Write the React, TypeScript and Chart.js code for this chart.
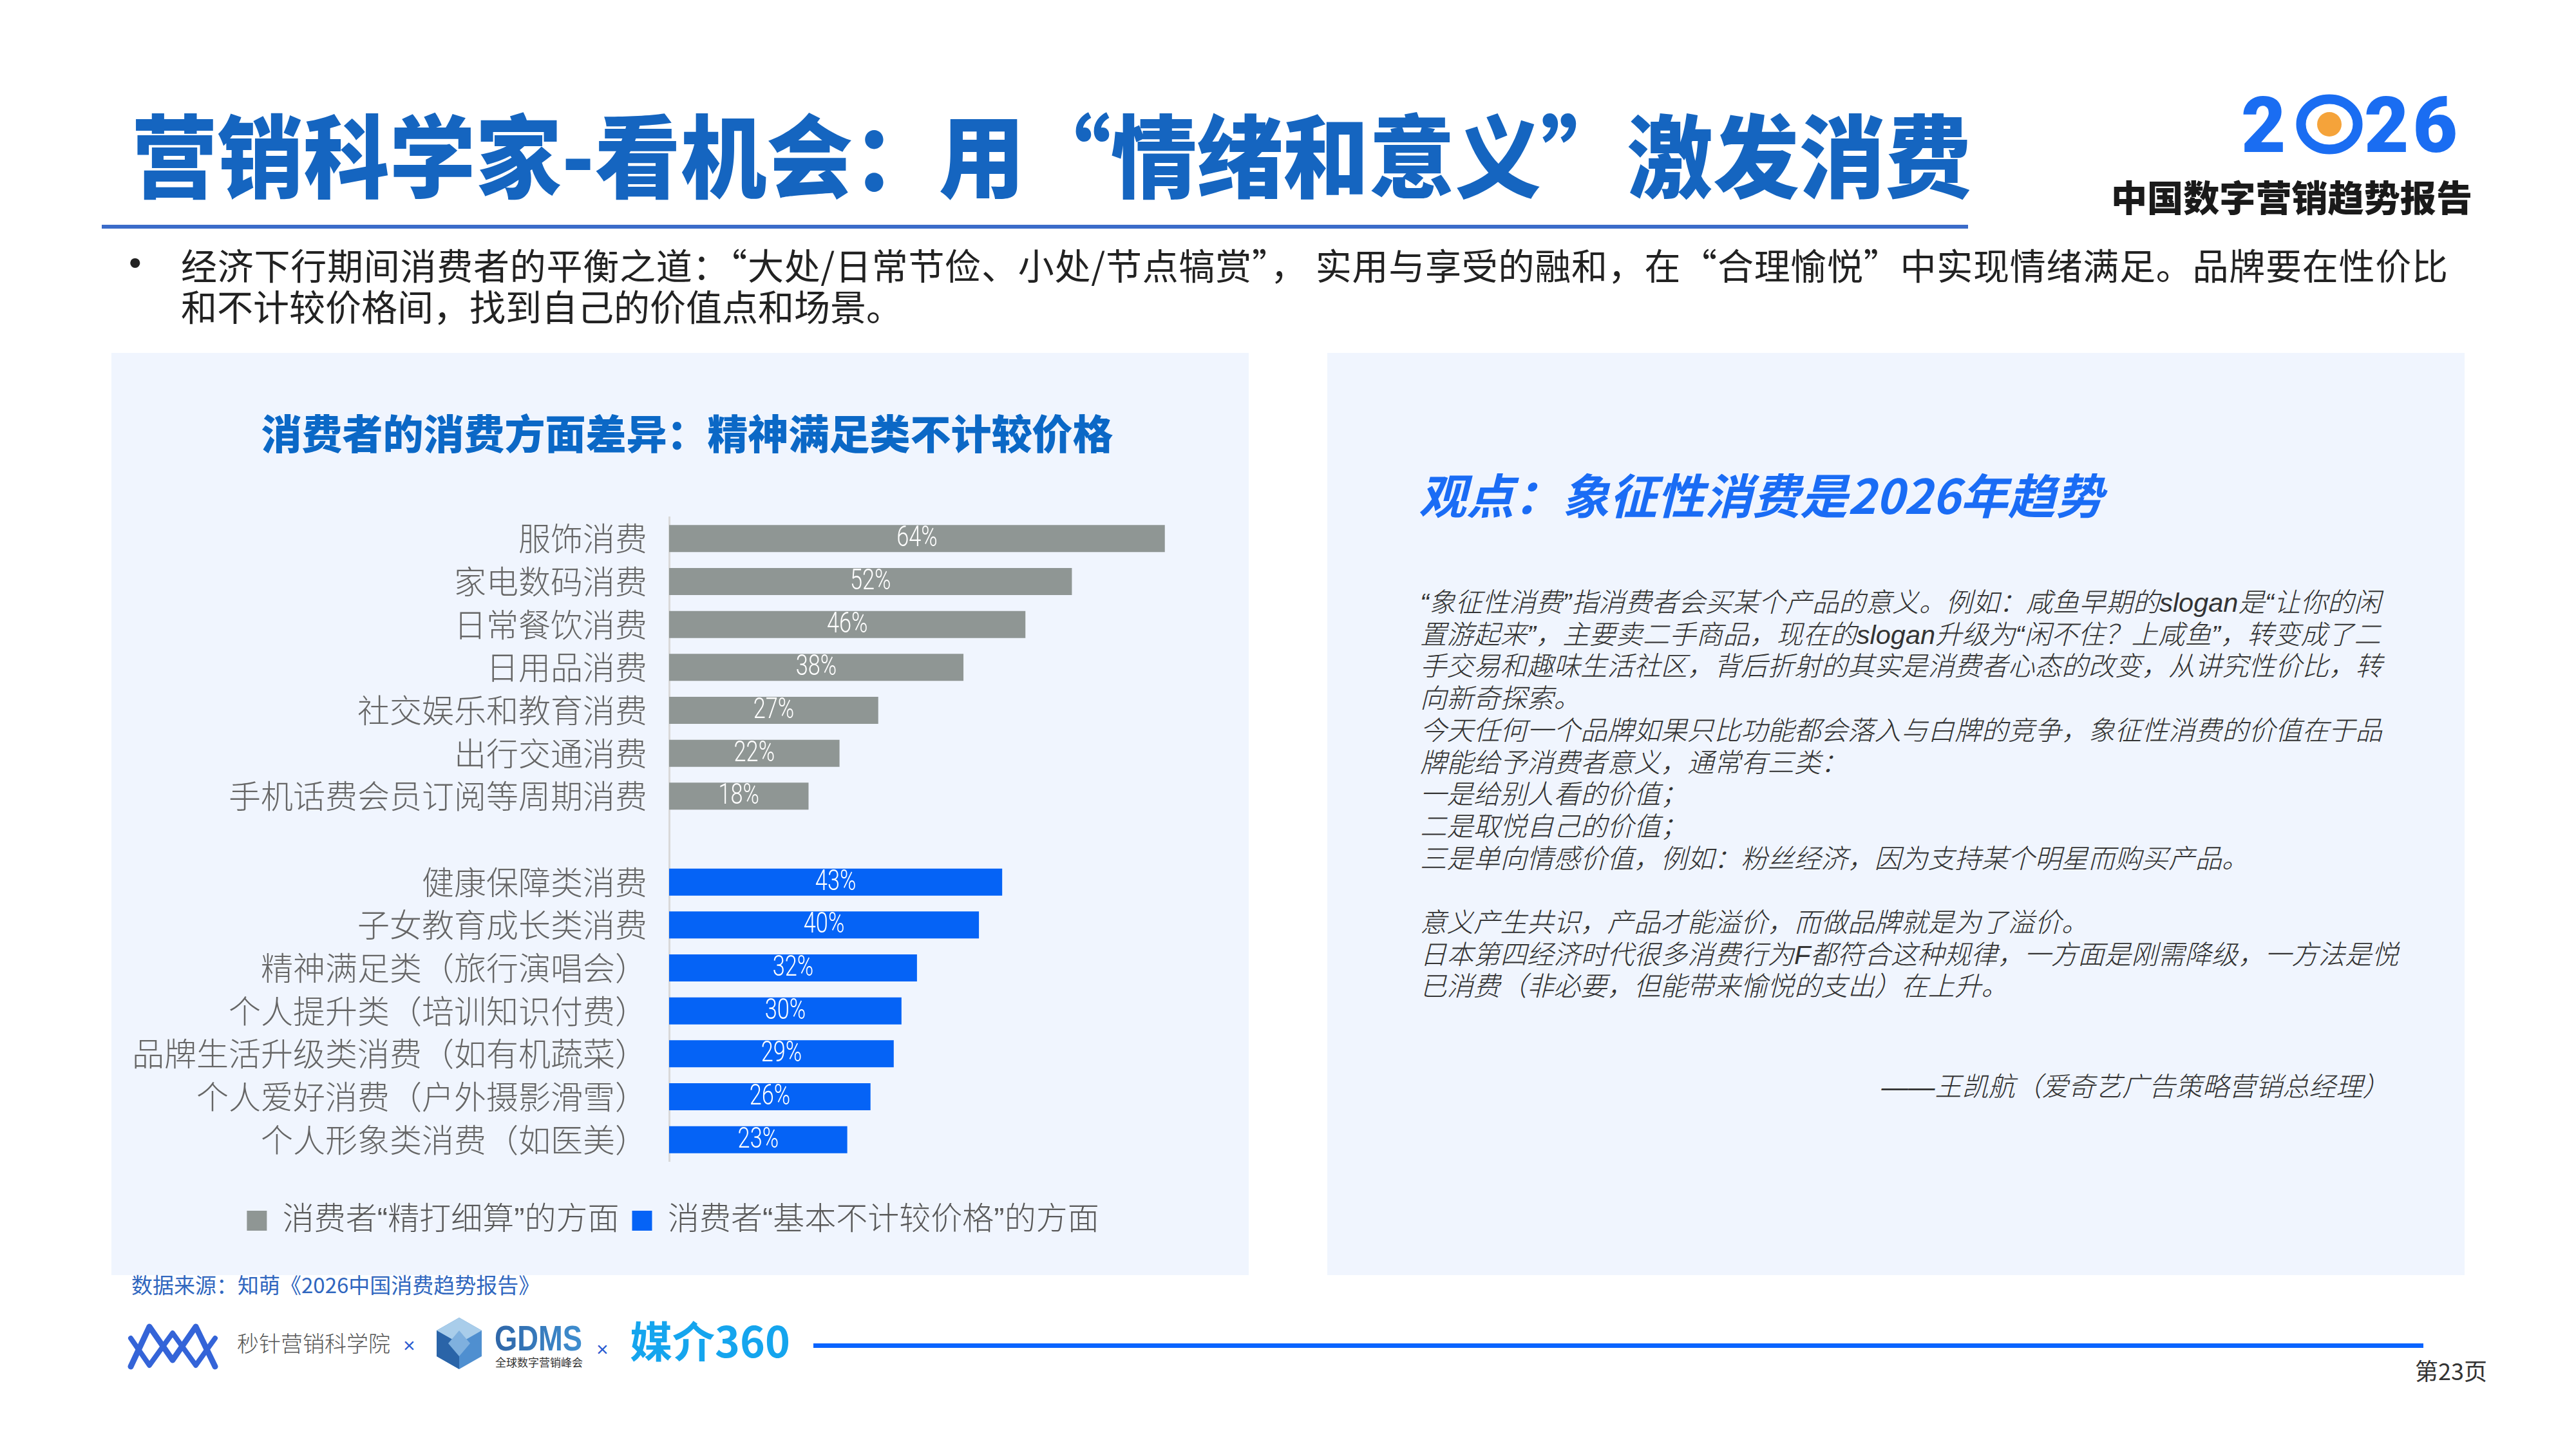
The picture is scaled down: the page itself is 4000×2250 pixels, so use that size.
import React, { useEffect, useRef } from "react";
import { Chart, registerables } from "chart.js";

Chart.register(...registerables);

// ---------------- data ----------------
const categories: string[] = [
  "服饰消费",
  "家电数码消费",
  "日常餐饮消费",
  "日用品消费",
  "社交娱乐和教育消费",
  "出行交通消费",
  "手机话费会员订阅等周期消费",
  "",
  "健康保障类消费",
  "子女教育成长类消费",
  "精神满足类（旅行演唱会）",
  "个人提升类（培训知识付费）",
  "品牌生活升级类消费（如有机蔬菜）",
  "个人爱好消费（户外摄影滑雪）",
  "个人形象类消费（如医美）",
];
const frugalValues: (number | null)[] = [64, 52, 46, 38, 27, 22, 18, null, null, null, null, null, null, null, null];
const splurgeValues: (number | null)[] = [null, null, null, null, null, null, null, null, 43, 40, 32, 30, 29, 26, 23];
const seriesLabels: string[] = ["消费者“精打细算”的方面", "消费者“基本不计较价格”的方面"];
const xMax = 73;

const bodyLines: string[] = [
  "“象征性消费”指消费者会买某个产品的意义。例如：咸鱼早期的slogan是“让你的闲",
  "置游起来”，主要卖二手商品，现在的slogan升级为“闲不住？上咸鱼”，转变成了二",
  "手交易和趣味生活社区，背后折射的其实是消费者心态的改变，从讲究性价比，转",
  "向新奇探索。",
  "今天任何一个品牌如果只比功能都会落入与白牌的竞争，象征性消费的价值在于品",
  "牌能给予消费者意义，通常有三类：",
  "一是给别人看的价值；",
  "二是取悦自己的价值；",
  "三是单向情感价值，例如：粉丝经济，因为支持某个明星而购买产品。",
  "",
  "意义产生共识，产品才能溢价，而做品牌就是为了溢价。",
  "日本第四经济时代很多消费行为F都符合这种规律，一方面是刚需降级，一方法是悦",
  "已消费（非必要，但能带来愉悦的支出）在上升。",
];

// ---------------- styles ----------------
const CJK = '"Noto Sans CJK SC", "Noto Sans", sans-serif';
const MIX = '"Liberation Sans", "Noto Sans CJK SC", sans-serif';
const GRAY = "#8f9694";
const BLUE = "#0563f6";

const barValueLabels = {
  id: "barValueLabels",
  afterDatasetsDraw(chart: any) {
    const ctx = chart.ctx;
    chart.data.datasets.forEach((ds: any, i: number) => {
      const meta = chart.getDatasetMeta(i);
      meta.data.forEach((bar: any, j: number) => {
        const v = ds.data[j];
        if (v == null) return;
        const p = bar.getProps(["x", "y", "base"], true);
        ctx.save();
        ctx.translate((p.x + p.base) / 2, p.y + 1);
        ctx.scale(0.78, 1);
        ctx.fillStyle = "#ffffff";
        ctx.font = '300 44px Roboto, "Liberation Sans", sans-serif';
        ctx.textAlign = "center";
        ctx.textBaseline = "middle";
        ctx.fillText(v + "%", 0, 0);
        ctx.restore();
      });
    });
  },
};

function BarChart() {
  const ref = useRef<HTMLCanvasElement>(null);
  useEffect(() => {
    const chart = new Chart(ref.current as HTMLCanvasElement, {
      type: "bar",
      data: {
        labels: categories,
        datasets: [
          {
            label: seriesLabels[0],
            data: frugalValues,
            backgroundColor: GRAY,
            borderWidth: 0,
            grouped: false,
            barPercentage: 0.63,
            categoryPercentage: 1,
          } as any,
          {
            label: seriesLabels[1],
            data: splurgeValues,
            backgroundColor: BLUE,
            borderWidth: 0,
            grouped: false,
            barPercentage: 0.63,
            categoryPercentage: 1,
          } as any,
        ],
      },
      options: {
        indexAxis: "y",
        responsive: false,
        animation: false,
        devicePixelRatio: 1,
        layout: { padding: { top: 70, right: 22, bottom: 0, left: 0 } },
        scales: {
          x: {
            min: 0,
            max: xMax,
            ticks: { display: false },
            grid: { display: false, drawTicks: false },
            border: { display: false },
            afterFit: (s: any) => {
              s.height = 48;
            },
          },
          y: {
            ticks: {
              color: "#666666",
              font: { family: CJK, size: 50, weight: "300" },
              padding: 34,
              autoSkip: false,
            },
            grid: { display: false, drawTicks: false },
            border: { display: true, color: "#d9d9d9", width: 3 },
            afterFit: (s: any) => {
              s.width = 866;
            },
          },
        },
        plugins: {
          legend: {
            position: "bottom",
            labels: {
              boxWidth: 31,
              boxHeight: 31,
              padding: 20,
              color: "#595959",
              font: { family: MIX, size: 49, weight: "300" },
            },
          },
          tooltip: { enabled: false },
        },
      } as any,
      plugins: [barValueLabels as any],
    });
    return () => chart.destroy();
  }, []);
  return (
    <canvas
      ref={ref}
      width={1766}
      height={1197}
      style={{ position: "absolute", left: 173, top: 733, width: 1766, height: 1197 }}
    />
  );
}

export default function App() {
  return (
    <div
      style={{
        position: "absolute",
        left: 0,
        top: 0,
        width: 4000,
        height: 2250,
        overflow: "hidden",
        background: "#ffffff",
      }}
    >
      <svg width={4000} height={2250} style={{ position: "absolute", left: 0, top: 0 }}>
        <defs>
          <linearGradient id="gdmsGrad" x1="0" y1="0" x2="1" y2="0">
            <stop offset="0" stopColor="#2f66a8" />
            <stop offset="1" stopColor="#3f8fd0" />
          </linearGradient>
        </defs>
        <rect x={0} y={0} width={4000} height={2250} fill="#ffffff" />
        {/* main title */}
        <text
          x={204}
          y={296}
          fontSize={140}
          fontWeight={900}
          fill="#1565c0"
          fontFamily={CJK}
          textLength={2857}
          lengthAdjust="spacingAndGlyphs"
        >
          营销科学家-看机会：用“情绪和意义”激发消费
        </text>
        <rect x={158} y={349} width={2898} height={6} fill="#3b6cc9" />

        {/* 2026 logo */}
        <text x={3480} y={236} fontSize={120} fontWeight={900} fill="#1a6df2" fontFamily="Roboto, sans-serif">
          2
        </text>
        <ellipse cx={3617} cy={193} rx={44} ry={39} fill="none" stroke="#1a6df2" strokeWidth={15} />
        <circle cx={3617} cy={193} r={19} fill="#f5a33a" />
        <text
          x={3671}
          y={236}
          fontSize={120}
          fontWeight={900}
          fill="#1a6df2"
          fontFamily="Roboto, sans-serif"
          letterSpacing={6}
        >
          26
        </text>
        <text
          x={3278}
          y={328}
          fontSize={56}
          fontWeight={900}
          fill="#1a1a1a"
          fontFamily={CJK}
          textLength={561}
          lengthAdjust="spacingAndGlyphs"
        >
          中国数字营销趋势报告
        </text>

        {/* bullet */}
        <text x={200} y={427} fontSize={56} fill="#222222" fontFamily='"Liberation Sans", sans-serif'>
          •
        </text>
        <text
          x={281}
          y={434}
          fontSize={56}
          fill="#222222"
          fontFamily={CJK}
          textLength={3520}
          lengthAdjust="spacing"
        >
          经济下行期间消费者的平衡之道：“大处/日常节俭、小处/节点犒赏”， 实用与享受的融和，在“合理愉悦”中实现情绪满足。品牌要在性价比
        </text>
        <text x={281} y={498} fontSize={56} fill="#222222" fontFamily={CJK}>
          和不计较价格间，找到自己的价值点和场景。
        </text>

        {/* panels */}
        <rect x={173} y={548} width={1766} height={1432} fill="#f0f5fe" />
        <rect x={2061} y={548} width={1766} height={1432} fill="#f0f5fe" />

        {/* chart title */}
        <text x={1067} y={697} fontSize={63} fontWeight={900} fill="#0b68c6" fontFamily={CJK} textAnchor="middle">
          消费者的消费方面差异：精神满足类不计较价格
        </text>

        {/* right panel */}
        <text
          x={2203}
          y={798}
          fontSize={74}
          fontWeight={700}
          fontStyle="italic"
          fill="#1a6cf5"
          fontFamily={CJK}
        >
          观点：象征性消费是2026年趋势
        </text>
        {bodyLines.map((line, i) =>
          line ? (
            <text
              key={i}
              x={2205}
              y={950 + i * 49.7}
              fontSize={41.5}
              fontWeight={300}
              fontStyle="italic"
              fill="#333333"
              fontFamily={MIX}
            >
              {line}
            </text>
          ) : null
        )}
        <text
          x={3710}
          y={1702}
          fontSize={41.5}
          fontWeight={300}
          fontStyle="italic"
          fill="#333333"
          fontFamily={MIX}
          textAnchor="end"
        >
          ——王凯航（爱奇艺广告策略营销总经理）
        </text>

        {/* source */}
        <text x={204} y={2008} fontSize={33} fill="#3067bf" fontFamily={CJK}>
          数据来源：知萌《2026中国消费趋势报告》
        </text>

        {/* footer logos */}
        <polyline
          points="203,2122 232,2060 268,2112 304,2060 334,2122"
          fill="none"
          stroke="#3464d8"
          strokeWidth={9}
          strokeLinejoin="round"
          strokeLinecap="round"
        />
        <polyline
          points="203,2078 232,2120 268,2070 304,2120 334,2078"
          fill="none"
          stroke="#3464d8"
          strokeWidth={8}
          strokeLinejoin="round"
          strokeLinecap="round"
        />
        <text x={368} y={2099} fontSize={34} fontWeight={300} fill="#555555" fontFamily={CJK}>
          秒针营销科学院
        </text>
        <text x={626} y={2100} fontSize={32} fill="#2a5bd0" fontFamily={MIX}>
          ×
        </text>
        <polygon points="713,2046 748,2066 748,2106 713,2126 678,2106 678,2066" fill="#4f8fd0" />
        <polygon points="713,2046 748,2066 713,2086 678,2066" fill="#a9cdea" />
        <polygon points="678,2066 713,2086 713,2126 678,2106" fill="#2a64a8" />
        <polygon points="713,2066 730,2086 713,2106 696,2086" fill="#7fb0de" />
        <text
          x={768}
          y={2097}
          fontSize={56}
          fontWeight={700}
          fill="url(#gdmsGrad)"
          fontFamily={MIX}
          textLength={136}
          lengthAdjust="spacingAndGlyphs"
        >
          GDMS
        </text>
        <text x={769} y={2122} fontSize={17} fill="#333333" fontFamily={CJK}>
          全球数字营销峰会
        </text>
        <text x={926} y={2106} fontSize={32} fill="#2a5bd0" fontFamily={MIX}>
          ×
        </text>
        <text x={978} y={2108} fontSize={66} fontWeight={700} fill="#15a5ee" fontFamily={CJK}>
          媒介360
        </text>
        <rect x={1263} y={2086} width={2500} height={7} fill="#0a64ff" />
        <text x={3750} y={2143} fontSize={36} fill="#333333" fontFamily={CJK}>
          第23页
        </text>
      </svg>
      <BarChart />
    </div>
  );
}
